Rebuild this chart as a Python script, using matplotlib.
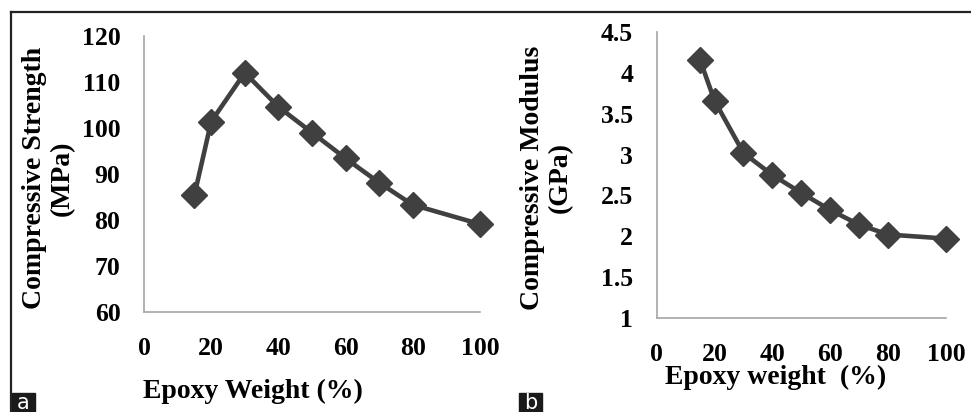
import matplotlib
matplotlib.use("Agg")
import matplotlib.pyplot as plt
from matplotlib.lines import Line2D
from matplotlib.patches import Rectangle

# data
epoxy = [15, 20, 30, 40, 50, 60, 70, 80, 100]
strength = [85.4, 101.4, 112.0, 104.6, 99.0, 93.4, 88.1, 83.3, 79.1]
modulus = [4.16, 3.66, 3.02, 2.75, 2.53, 2.32, 2.14, 2.02, 1.97]

x_ticks = [0, 20, 40, 60, 80, 100]
strength_ticks = [60, 70, 80, 90, 100, 110, 120]
modulus_ticks = [1, 1.5, 2, 2.5, 3, 3.5, 4, 4.5]
modulus_ticklabels = ["1", "1.5", "2", "2.5", "3", "3.5", "4", "4.5"]

plt.rcParams["font.family"] = ["Liberation Serif", "DejaVu Serif"]
plt.rcParams["font.weight"] = "bold"

fig = plt.figure(figsize=(9.71, 4.12), dpi=100)

line_col = "#404040"
spine_col = "#a6a6a6"


def style(ax, xpad, ypad):
    for s in ["top", "right"]:
        ax.spines[s].set_visible(False)
    for s in ["left", "bottom"]:
        ax.spines[s].set_color(spine_col)
        ax.spines[s].set_linewidth(1.2)
    ax.tick_params(length=0, labelsize=18.5)
    ax.tick_params(axis="x", pad=xpad)
    ax.tick_params(axis="y", pad=ypad)
    ax.set_xlim(0, 100)
    ax.set_xticks(x_ticks)


ax1 = fig.add_axes([0.1483, 0.2427, 0.346, 0.670])
ax1.plot(epoxy, strength, color=line_col, lw=3.3, marker="D", ms=13, clip_on=False)
ax1.set_ylim(60, 120)
ax1.set_yticks(strength_ticks)
style(ax1, 18, 17)

ax2 = fig.add_axes([0.6763, 0.2289, 0.298, 0.6927])
ax2.plot(epoxy, modulus, color=line_col, lw=3.3, marker="D", ms=13, clip_on=False)
ax2.set_ylim(1, 4.5)
ax2.set_yticks(modulus_ticks)
ax2.set_yticklabels(modulus_ticklabels)
style(ax2, 18, 17)

# axis titles
fig.text(0.0494, 0.568, "Compressive Strength\n(MPa)", rotation=90, ha="center",
         va="center", multialignment="center", fontsize=20, linespacing=1.15)
fig.text(0.563, 0.569, "Compressive Modulus\n(GPa)", rotation=90, ha="center",
         va="center", multialignment="center", fontsize=20, linespacing=1.15)
fig.text(0.261, 0.049, "Epoxy Weight (%)", ha="center", va="center", fontsize=20)
fig.text(0.799, 0.083, "Epoxy weight  (%)", ha="center", va="center", fontsize=20)

# frame lines
fig.add_artist(Line2D([0.0118, 1.0], [0.9697, 0.9697], color="#222222", lw=1.6))
fig.add_artist(Line2D([0.0118, 0.0118], [0.0, 0.9697], color="#222222", lw=1.6))

# panel tags
for x0, tag in [(0.01236, "a"), (0.5345, "b")]:
    fig.add_artist(Rectangle((x0, 0.0), 0.0237, 0.0461, color="#1a1a1a"))
    fig.text(x0 + 0.01185, 0.021, tag, color="white", ha="center", va="center",
             fontsize=15, family="DejaVu Sans", weight="normal")

fig.savefig("out.png", dpi=100)
